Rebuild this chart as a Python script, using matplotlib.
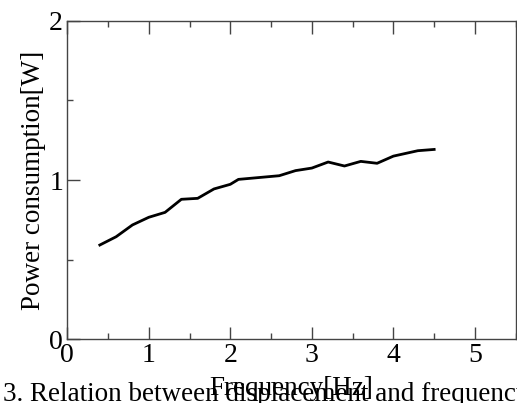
import matplotlib.pyplot as plt
from matplotlib.ticker import MultipleLocator

# Frequency [Hz] and power consumption [W]
freq = [0.4, 0.6, 0.8, 1.0, 1.2, 1.4, 1.6, 1.8, 2.0, 2.1, 2.6, 2.8, 3.0, 3.2, 3.4, 3.6, 3.8, 4.0, 4.3, 4.5]
power = [0.592, 0.644, 0.718, 0.766, 0.797, 0.879, 0.885, 0.944, 0.973, 1.004,
         1.027, 1.059, 1.075, 1.113, 1.088, 1.117, 1.105, 1.150, 1.184, 1.192]

x_ticks = [0, 1, 2, 3, 4, 5]
y_ticks = [0, 1, 2]

plt.rcParams['font.family'] = ['Liberation Serif', 'DejaVu Serif']

fig = plt.figure(figsize=(5.17, 4.03), dpi=100)
ax = fig.add_axes([0.130, 0.158, 0.8675, 0.7906])

ax.plot(freq, power, color='black', linewidth=2.0)

ax.set_xlim(0, 5.5)
ax.set_ylim(0, 2)
ax.set_xticks(x_ticks)
ax.set_yticks(y_ticks)
ax.xaxis.set_minor_locator(MultipleLocator(0.5))
ax.yaxis.set_minor_locator(MultipleLocator(0.5))

ax.tick_params(which='both', direction='in', top=True, right=False, labelsize=20,
               color='#444444', width=1.0)
ax.tick_params(which='major', length=9, pad=3)
ax.tick_params(which='minor', length=4)
for side in ax.spines.values():
    side.set_color('#444444')
    side.set_linewidth(1.0)

ax.set_ylabel('Power consumption[W]', fontsize=19.5, labelpad=2)
ax.set_xlabel('Frequency[Hz]', fontsize=19.5)
ax.xaxis.set_label_coords(0.5, -0.115)

# figure caption, cut off at both edges like in the source image
fig.text(0.006, -0.01, '3. Relation between displacement and frequency', fontsize=19.5, ha='left', va='bottom')

fig.savefig('out.png', dpi=100)
